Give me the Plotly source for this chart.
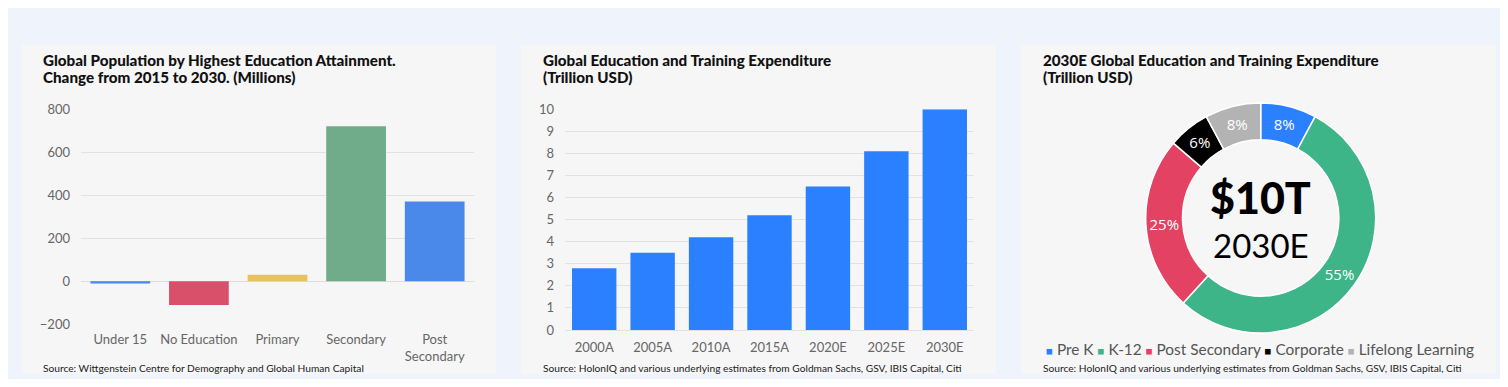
import plotly.graph_objects as go

# page body has an 8px default margin: size the figure to fit inside it
OFF = 8
W, H = 1508 - 2 * OFF, 387 - 2 * OFF

# ---- data ----
pop_categories = ["Under 15", "No Education", "Primary", "Secondary", "Post<br>Secondary"]
pop_change = [-10, -110, 30, 720, 370]
pop_colors = ["#4a86e8", "#d9506a", "#e8c35a", "#70ab8a", "#4a88ea"]

exp_years = ["2000A", "2005A", "2010A", "2015A", "2020E", "2025E", "2030E"]
exp_values = [2.8, 3.5, 4.2, 5.2, 6.5, 8.1, 10.0]

seg_labels = ["Pre K", "K-12", "Post Secondary", "Corporate", "Lifelong Learning"]
seg_values = [8, 55, 25, 6, 8]
seg_colors = ["#2b80ff", "#3eb489", "#e34262", "#000000", "#b3b3b3"]

FONT = "Lato"
def px(x):
    return (x - OFF) / W
def py(y):
    return 1 - (y - OFF) / H

fig = go.Figure()

fig.add_trace(go.Bar(x=pop_categories, y=pop_change, marker=dict(color=pop_colors, line=dict(width=0)),
                     xaxis="x", yaxis="y", showlegend=False))
fig.add_trace(go.Bar(x=exp_years, y=exp_values, marker=dict(color="#2b80ff", line=dict(width=0)),
                     xaxis="x2", yaxis="y2", showlegend=False))
fig.add_trace(go.Pie(labels=seg_labels, values=seg_values, hole=0.68, sort=False, direction="clockwise",
                     rotation=0, marker=dict(colors=seg_colors, line=dict(color="white", width=1.5)),
                     texttemplate="%{value}%", textposition="inside", insidetextorientation="horizontal",
                     textfont=dict(color="white", size=15, family="Open Sans"),
                     domain=dict(x=[px(1145.7), px(1375.7)], y=[py(333), py(103)]),
                     showlegend=False, automargin=False))

grid = "#e2e2e2"
tickfont = dict(family=FONT, size=13, color="#666666")

shapes = []
for x0, x1 in [(22, 496), (521, 996), (1021, 1496)]:
    shapes.append(dict(type="rect", xref="paper", yref="paper", x0=px(x0), x1=px(x1), y0=py(374), y1=py(45),
                       fillcolor="#f6f6f6", line=dict(width=0), layer="below"))

annotations = []
titles = [
    (41, "Global Population by Highest Education Attainment.", "Change from 2015 to 2030. (Millions)"),
    (541, "Global Education and Training Expenditure", "(Trillion USD)"),
    (1041, "2030E Global Education and Training Expenditure", "(Trillion USD)"),
]
for x, l1, l2 in titles:
    for yy, t in [(60, l1), (77, l2)]:
        annotations.append(dict(xref="paper", yref="paper", x=px(x), y=py(yy), xanchor="left", yanchor="middle",
                                text=t, showarrow=False, align="left",
                                font=dict(family=FONT, size=15.2, color="#111111", weight=900)))
sources = [
    (41, "Source: Wittgenstein Centre for Demography and Global Human Capital"),
    (541, "Source: HolonIQ and various underlying estimates from Goldman Sachs, GSV, IBIS Capital, Citi"),
    (1041, "Source: HolonIQ and various underlying estimates from Goldman Sachs, GSV, IBIS Capital, Citi"),
]
for x, t in sources:
    annotations.append(dict(xref="paper", yref="paper", x=px(x), y=py(367.5), xanchor="left", yanchor="middle",
                            text=t, showarrow=False, font=dict(family=FONT, size=10.2, color="#222222")))
annotations.append(dict(xref="paper", yref="paper", x=px(1260.7), y=py(197), text="$10T", showarrow=False,
                        xanchor="center", yanchor="middle", font=dict(family=FONT, size=43, color="#000000", weight=900)))
annotations.append(dict(xref="paper", yref="paper", x=px(1260.7), y=py(245), text="2030E", showarrow=False,
                        xanchor="center", yanchor="middle", font=dict(family=FONT, size=33, color="#000000")))

# legend row for the donut (coloured squares + labels)
legend_text = " ".join(
    f"<span style='color:{c};font-size:11.5px'>■</span> {lab}" for lab, c in zip(seg_labels, seg_colors)
)
annotations.append(dict(xref="paper", yref="paper", x=px(1259.5), y=py(349), text=legend_text, showarrow=False,
                        xanchor="center", yanchor="middle", font=dict(family=FONT, size=15.4, color="#555555")))

fig.update_layout(
    width=W, height=H, autosize=False,
    margin=dict(l=0, r=0, t=0, b=0, pad=0, autoexpand=False),
    paper_bgcolor="#eff3fb", plot_bgcolor="rgba(0,0,0,0)",
    bargap=0.24,
    shapes=shapes, annotations=annotations,
    showlegend=False,
    xaxis=dict(domain=[px(81), px(474)], tickfont=tickfont, showgrid=False, showline=False, ticks="",
               anchor="y", automargin=False, ticklabelstandoff=6),
    yaxis=dict(domain=[py(324.3), py(109)], range=[-200, 800], tickvals=[-200, 0, 200, 400, 600, 800],
               ticktext=["−200", "0", "200", "400", "600", "800"],
               tickfont=tickfont, gridcolor=grid, zeroline=True, zerolinecolor="#dddddd", zerolinewidth=1,
               showline=False, ticks="", ticklabelstandoff=10, anchor="x", automargin=False),
    xaxis2=dict(domain=[px(565), px(974)], tickfont=tickfont, showgrid=False, ticks="", anchor="y2",
                showline=True, linecolor=grid, automargin=False, ticklabelstandoff=5),
    yaxis2=dict(domain=[py(330), py(109.3)], range=[0, 10], dtick=1, tickfont=tickfont, gridcolor=grid,
                zeroline=False, ticks="", anchor="x2", ticklabelstandoff=10, automargin=False),
)

fig.write_html("out.html")
